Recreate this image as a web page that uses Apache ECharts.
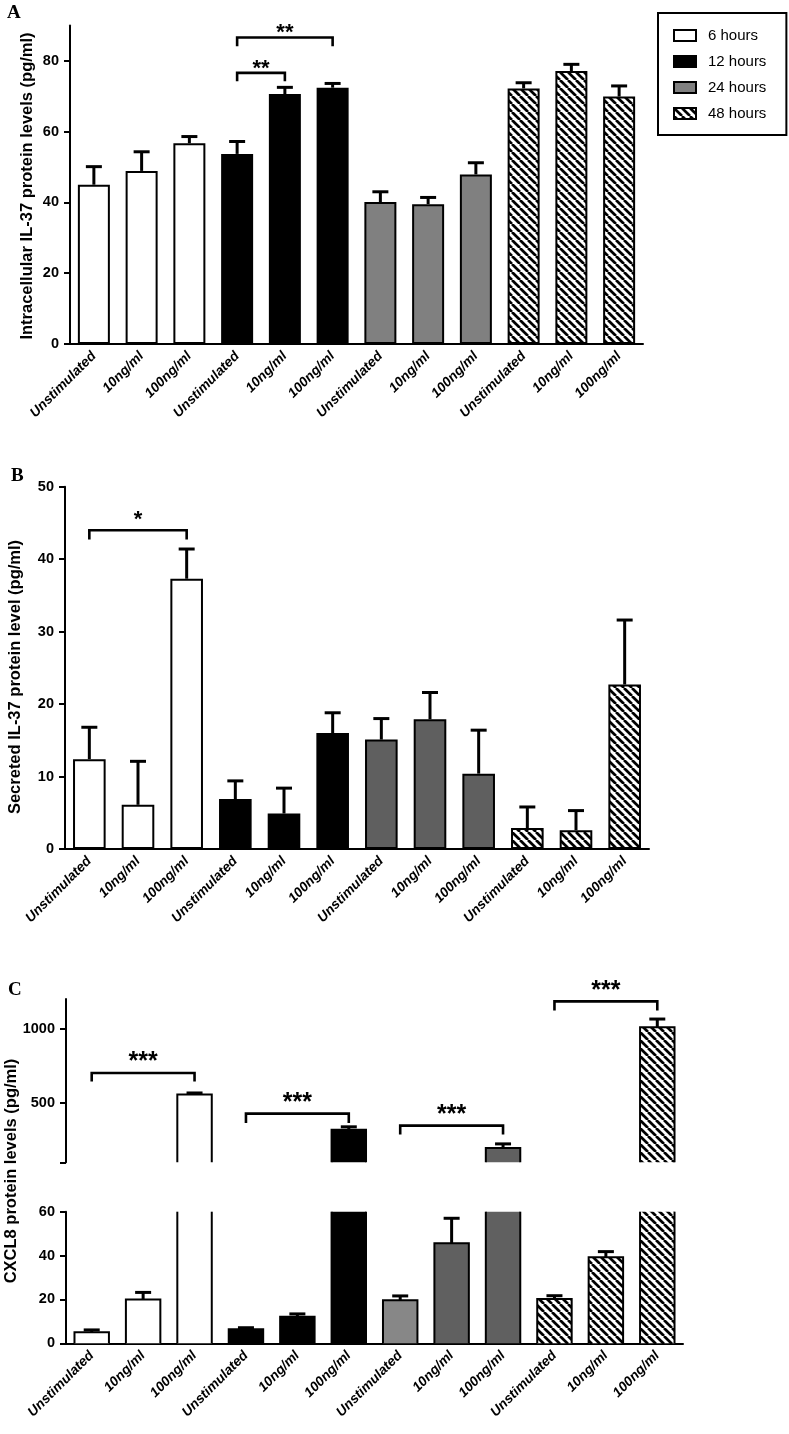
<!DOCTYPE html>
<html><head><meta charset="utf-8">
<script src="https://cdn.jsdelivr.net/npm/echarts@6/dist/echarts.min.js"></script>
<style>html,body{margin:0;padding:0;background:#fff}#chart{width:789px;height:1434px}</style>
</head><body><div id="chart"></div>
<script>
// ---------------- data ----------------
const categories = ['Unstimulated','10ng/ml','100ng/ml','Unstimulated','10ng/ml','100ng/ml',
                    'Unstimulated','10ng/ml','100ng/ml','Unstimulated','10ng/ml','100ng/ml'];
const groups = ['6 hours','12 hours','24 hours','48 hours'];
const groupOf = [0,0,0,1,1,1,2,2,2,3,3,3];

const A_mean = [45.0, 48.9, 56.7, 53.7, 70.6, 72.4, 40.1, 39.5, 47.9, 72.2, 77.1, 69.9];
const A_err  = [5.1, 5.4, 1.9, 3.5, 1.9, 1.2, 2.9, 1.9, 3.3, 1.6, 1.9, 3.0];
const A_ticks = [0, 20, 40, 60, 80];
const A_sig = [{from:3, to:5, y:86.6, yEnd:84.1, label:'**'},
               {from:3, to:4, y:76.6, yEnd:74.2, label:'**'}];

const B_mean = [12.4, 6.1, 37.3, 6.9, 4.9, 16.0, 15.1, 17.9, 10.4, 2.9, 2.6, 22.7];
const B_err  = [4.4, 6.0, 4.1, 2.5, 3.5, 2.8, 2.9, 3.7, 6.0, 2.9, 2.7, 8.9];
const B_ticks = [0, 10, 20, 30, 40, 50];
const B_sig = [{from:0, to:2, y:44.0, yEnd:42.7, label:'*'}];

const C_mean = [5.0, 20.0, 556, 6.4, 12.1, 320, 19.6, 45.6, 197, 20.2, 39.2, 1009];
const C_err  = [1.1, 3.2, 11, 0.7, 1.3, 19, 2.0, 11.4, 27, 1.5, 2.6, 56];
const C_topTicks = [100, 500, 1000];
const C_topLabels = [500, 1000];
const C_lowTicks = [0, 20, 40, 60];
const C_sig = [{from:0, to:2, y:702, yEnd:645, label:'***'},
               {from:3, to:5, y:428, yEnd:365, label:'***'},
               {from:6, to:8, y:347, yEnd:287, label:'***'},
               {from:9, to:11, y:1184, yEnd:1123, label:'***'}];

// ---------------- styles ----------------
const FONT = "'Liberation Sans', Arial, sans-serif";
function makeHatch(){
  const s = 8, c = document.createElement('canvas');
  c.width = s; c.height = s;
  const g = c.getContext('2d');
  g.fillStyle = '#fff'; g.fillRect(0,0,s,s);
  g.strokeStyle = '#000'; g.lineWidth = 2.7;
  for (const o of [-s, 0, s]) { g.beginPath(); g.moveTo(o, 0); g.lineTo(o + s, s); g.stroke(); }
  return c;
}
const hatch = {image: makeHatch(), repeat: 'repeat'};
const fillA = ['#ffffff', '#000000', '#808080', hatch];
const fillB = ['#ffffff', '#000000', '#5f5f5f', hatch];
function fillC(i){
  if (i === 6) return '#878787';
  return ['#ffffff', '#000000', '#606060', hatch][groupOf[i]];
}

const axisLineStyle = {color:'#000', width:2};
function xAxisCfg(grid, show){
  return {
    type:'category', gridIndex:grid, data:categories, show:show,
    axisLine:{lineStyle:axisLineStyle},
    axisTick:{alignWithLabel:true, length:6, lineStyle:{color:'#000', width:2}},
    axisLabel:{rotate:45, margin:10, color:'#000', fontFamily:FONT, fontWeight:'bold', fontStyle:'italic', fontSize:13.7, interval:0}
  };
}
function yAxisCfg(grid, min, max, ticks, labels){
  return {
    type:'value', gridIndex:grid, min:min, max:max,
    splitLine:{show:false},
    axisLine:{show:true, lineStyle:axisLineStyle},
    axisTick:{show:true, length:6, lineStyle:{color:'#000', width:2}, customValues:ticks},
    axisLabel:{margin:11, color:'#000', fontFamily:FONT, fontWeight:'bold', fontSize:14.5,
      customValues:labels || ticks, formatter:v => String(v)}
  };
}

function errRender(lo, hi){
  return function(params, api){
    const i = api.value(0), v = api.value(1), e = api.value(2);
    if (v <= lo || v >= hi) return;
    const p0 = api.coord([i, v]), p1 = api.coord([i, v + e]);
    const cap = 16;
    return {type:'group', children:[
      {type:'line', shape:{x1:p0[0], y1:p0[1], x2:p1[0], y2:p1[1]}, style:{stroke:'#000', lineWidth:3}},
      {type:'line', shape:{x1:p1[0]-cap/2, y1:p1[1], x2:p1[0]+cap/2, y2:p1[1]}, style:{stroke:'#000', lineWidth:3}}
    ]};
  };
}
function bracketRender(list, fs, gap){
  return function(params, api){
    const b = list[params.dataIndex];
    const a1 = api.coord([api.value(0), api.value(3)]);
    const a2 = api.coord([api.value(0), api.value(2)]);
    const a3 = api.coord([api.value(1), api.value(2)]);
    const a4 = api.coord([api.value(1), api.value(3)]);
    return {type:'group', children:[
      {type:'polyline', shape:{points:[a1, a2, a3, a4]}, style:{stroke:'#000', lineWidth:2.6, fill:null}},
      {type:'text', style:{text:b.label, x:(a2[0]+a3[0])/2, y:a2[1] - gap + 0.22*fs,
        align:'center', verticalAlign:'middle', font:'bold ' + fs + 'px ' + FONT, fill:'#000'}}
    ]};
  };
}
function barRender(lo, hi){
  return function(params, api){
    const i = api.value(0), v = api.value(1);
    if (!(v > lo)) return;
    const bw = api.size([1, 0])[0] * 0.67;
    const base = api.coord([i, lo]);
    const yt = api.coord([i, Math.min(v, hi)])[1];
    const x0 = base[0] - bw/2, x1 = base[0] + bw/2, yb = base[1];
    const st = {stroke:'#000', lineWidth:2, fill:null};
    const children = [{type:'rect', shape:{x:x0, y:yt, width:bw, height:yb-yt}, style:{fill:fillC(i)}}];
    if (v > hi) {
      children.push({type:'line', shape:{x1:x0, y1:yt, x2:x0, y2:yb}, style:st});
      children.push({type:'line', shape:{x1:x1, y1:yt, x2:x1, y2:yb}, style:st});
    } else {
      children.push({type:'polyline', shape:{points:[[x0,yb],[x0,yt],[x1,yt],[x1,yb]]}, style:st});
    }
    return {type:'group', children};
  };
}

const series = [];
// Panel A bars
groups.forEach((g, gi) => series.push({
  type:'bar', name:g, xAxisIndex:0, yAxisIndex:0,
  data:A_mean.map((v, i) => groupOf[i] === gi ? v : '-'),
  barGap:'-100%', barCategoryGap:'33%',
  itemStyle:{color:fillA[gi], borderColor:'#000', borderWidth:2}
}));
// Panel B bars
groups.forEach((g, gi) => series.push({
  type:'bar', name:g, xAxisIndex:1, yAxisIndex:1,
  data:B_mean.map((v, i) => groupOf[i] === gi ? v : '-'),
  barGap:'-100%', barCategoryGap:'33%',
  itemStyle:{color:fillB[gi], borderColor:'#000', borderWidth:2}
}));
// Error bars A, B
series.push({type:'custom', name:'errA', xAxisIndex:0, yAxisIndex:0, z:5,
  data:A_mean.map((v, i) => [i, v, A_err[i]]), encode:{x:0, y:1}, renderItem:errRender(-Infinity, Infinity)});
series.push({type:'custom', name:'errB', xAxisIndex:1, yAxisIndex:1, z:5,
  data:B_mean.map((v, i) => [i, v, B_err[i]]), encode:{x:0, y:1}, renderItem:errRender(-Infinity, Infinity)});
// Panel C (broken axis): top segment (grid 2) and low segment (grid 3)
series.push({type:'custom', name:'barsCtop', xAxisIndex:2, yAxisIndex:2, z:2,
  data:C_mean.map((v, i) => [i, v]), encode:{x:0, y:1}, renderItem:barRender(100, 1200)});
series.push({type:'custom', name:'barsClow', xAxisIndex:3, yAxisIndex:3, z:2,
  data:C_mean.map((v, i) => [i, v]), encode:{x:0, y:1}, renderItem:barRender(0, 60)});
series.push({type:'custom', name:'errCtop', xAxisIndex:2, yAxisIndex:2, z:5,
  data:C_mean.map((v, i) => [i, v, C_err[i]]), encode:{x:0, y:1}, renderItem:errRender(100, Infinity)});
series.push({type:'custom', name:'errClow', xAxisIndex:3, yAxisIndex:3, z:5,
  data:C_mean.map((v, i) => [i, v, C_err[i]]), encode:{x:0, y:1}, renderItem:errRender(-Infinity, 60)});
// significance brackets
series.push({type:'custom', name:'sigA', xAxisIndex:0, yAxisIndex:0, z:6,
  data:A_sig.map(b => [b.from, b.to, b.y, b.yEnd]), encode:{x:[0,1], y:[2,3]}, renderItem:bracketRender(A_sig, 22, 9)});
series.push({type:'custom', name:'sigB', xAxisIndex:1, yAxisIndex:1, z:6,
  data:B_sig.map(b => [b.from, b.to, b.y, b.yEnd]), encode:{x:[0,1], y:[2,3]}, renderItem:bracketRender(B_sig, 22, 15)});
series.push({type:'custom', name:'sigC', xAxisIndex:2, yAxisIndex:2, z:6,
  data:C_sig.map(b => [b.from, b.to, b.y, b.yEnd]), encode:{x:[0,1], y:[2,3]}, renderItem:bracketRender(C_sig, 25, 16)});

const option = {
  animation:false,
  backgroundColor:'#fff',
  grid:[
    {left:70, top:25.4, width:573, height:318.6},
    {left:65, top:486.7, width:584, height:362.3},
    {left:66, top:999, width:617, height:163.3},
    {left:66, top:1211.7, width:617, height:131.6}
  ],
  xAxis:[xAxisCfg(0, true), xAxisCfg(1, true), xAxisCfg(2, false), xAxisCfg(3, true)],
  yAxis:[
    yAxisCfg(0, 0, 90, A_ticks),
    yAxisCfg(1, 0, 50, B_ticks),
    yAxisCfg(2, 100, 1200, C_topTicks, C_topLabels),
    yAxisCfg(3, 0, 60, C_lowTicks)
  ],
  legend:{
    data:groups, orient:'vertical', left:658, top:13,
    itemWidth:22, itemHeight:11, itemGap:11, icon:'rect',
    padding:[15, 20, 14, 15], borderColor:'#000', borderWidth:2,
    selectedMode:false,
    textStyle:{fontSize:15, fontFamily:FONT, color:'#000', padding:[0,0,0,7]}
  },
  graphic:[
    {type:'text', left:7, top:4, style:{text:'A', font:"bold 19px 'Liberation Serif', 'Times New Roman', serif", fill:'#000'}},
    {type:'text', left:11, top:467, style:{text:'B', font:"bold 19px 'Liberation Serif', 'Times New Roman', serif", fill:'#000'}},
    {type:'text', left:8, top:981, style:{text:'C', font:"bold 19px 'Liberation Serif', 'Times New Roman', serif", fill:'#000'}},
    {type:'text', x:27, y:186, rotation:Math.PI/2, style:{text:'Intracellular IL-37 protein levels (pg/ml)', align:'center', verticalAlign:'middle', font:'bold 16.5px ' + FONT, fill:'#000'}},
    {type:'text', x:15, y:677, rotation:Math.PI/2, style:{text:'Secreted IL-37 protein level (pg/ml)', align:'center', verticalAlign:'middle', font:'bold 16.5px ' + FONT, fill:'#000'}},
    {type:'text', x:11, y:1171, rotation:Math.PI/2, style:{text:'CXCL8 protein levels (pg/ml)', align:'center', verticalAlign:'middle', font:'bold 16.5px ' + FONT, fill:'#000'}}
  ],
  series:series
};
const chart = echarts.init(document.getElementById('chart'), null, {renderer:'canvas'});
chart.setOption(option);
</script>
</body></html>
